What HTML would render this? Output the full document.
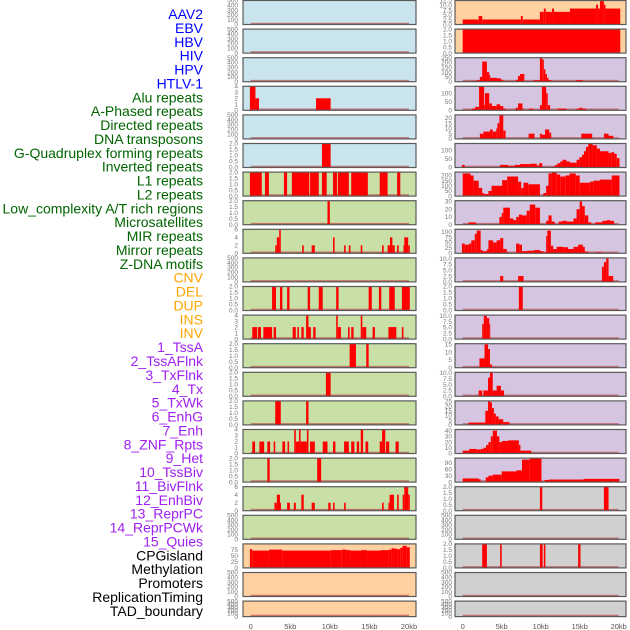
<!DOCTYPE html>
<html><head><meta charset="utf-8"><style>
html,body{margin:0;padding:0;background:#fff;}
svg{display:block;font-family:"Liberation Sans",sans-serif;}
</style></head><body>
<svg id="chart" width="630" height="630" viewBox="0 0 630 630">
<g id="labels"></g>
<g id="panels"></g>
<g id="xaxis"></g>
</svg>
<script>
const NS="http://www.w3.org/2000/svg";
// ---- data ----
const featureLabels=["AAV2","EBV","HBV","HIV","HPV","HTLV-1","Alu repeats","A-Phased repeats","Directed repeats","DNA transposons","G-Quadruplex forming repeats","Inverted repeats","L1 repeats","L2 repeats","Low_complexity A/T rich regions","Microsatellites","MIR repeats","Mirror repeats","Z-DNA motifs","CNV","DEL","DUP","INS","INV","1_TssA","2_TssAFlnk","3_TxFlnk","4_Tx","5_TxWk","6_EnhG","7_Enh","8_ZNF_Rpts","9_Het","10_TssBiv","11_BivFlnk","12_EnhBiv","13_ReprPC","14_ReprPCWk","15_Quies","CPGisland","Methylation","Promoters","ReplicationTiming","TAD_boundary"];
const labelGroups=[6,13,5,15,5];
const groupColors=["#0000ff","#006400","#ffa500","#a020f0","#000000"];
const xTickValues=[0,5,10,15,20];
const xTickLabels=["0","5kb","10kb","15kb","20kb"];

const ticks500=[0,100,200,300,400,500];
const ticks2=[0,0.5,1,1.5,2];
const ticks4=[0,1,2,3,4];
const ticks6=[0,2,4,6];

const L3=[[-0.1,0.6,4],[0.6,1.05,2],[8.25,10.1,2]];
const L5=[[9.0,10.1,2]];
const L6=[[-0.1,1.4,2],[1.8,2.3,2],[4.2,4.6,2],[5.2,7.4,2],[7.5,8.6,2],[9.0,9.6,2],[10.4,10.9,2],[11.0,12.4,2],[12.7,14.8,2],[16.3,17.3,2],[18.5,18.9,2]];
const L7=[[9.7,10.0,2]];
const L8=[[3.1,3.3,2],[3.3,3.6,4],[3.6,3.8,6],[6.5,6.7,2],[7.7,8.1,2],[10.4,10.6,4],[11.8,12.0,2],[12.4,12.6,2],[13.9,14.1,2],[16.6,16.8,2],[17.3,17.6,2],[17.6,17.9,4],[17.9,18.2,2],[18.5,18.7,2],[19.3,19.4,2],[19.4,19.9,4],[19.9,20.1,2]];
const L10=[[2.7,3.2,2],[3.7,4.0,2],[4.6,4.9,2],[7.2,7.5,2],[8.6,9.1,2],[10.8,11.1,2],[14.9,15.3,2],[16.2,16.5,2],[17.5,18.2,2],[19.1,20.1,2]];
const L11=[[0.2,0.8,2],[0.9,1.3,2],[1.6,2.7,2],[2.9,3.2,2],[5.3,5.7,2],[5.9,6.1,2],[6.4,6.7,2],[7.0,7.3,4],[7.3,7.6,2],[7.9,8.2,2],[10.8,11.0,4],[11.0,11.4,2],[12.3,12.5,2],[12.7,13.0,2],[13.9,14.1,4],[14.1,14.6,2],[15.4,15.7,2],[17.4,18.4,2],[19.1,19.3,2]];
const L12=[[12.5,13.3,2],[14.6,14.9,2]];
const L13=[[9.5,10.1,2]];
const L14=[[3.1,3.8,2],[7.0,7.3,2]];
const L15=[[0.2,0.55,2],[1.1,1.7,2],[2.1,2.45,2],[2.9,3.1,2],[4.0,4.35,2],[4.65,4.85,2],[5.5,5.7,4],[5.7,6.1,2],[6.1,6.3,4],[6.3,7.1,2],[7.1,7.3,4],[7.5,8.1,2],[9.1,9.7,2],[10.4,10.7,2],[11.8,12.4,2],[12.7,13.1,2],[13.4,13.7,2],[13.9,14.2,4],[14.5,14.85,2],[16.3,16.6,2],[16.6,17.0,4],[17.1,17.5,2],[18.3,18.7,2]];
const L16=[[2.1,2.4,2],[8.4,8.9,2]];
const L17=[[3.0,3.3,2],[3.3,3.7,4],[3.7,3.8,2],[4.6,4.95,2],[5.45,5.7,2],[6.4,6.7,4],[7.7,8.1,2],[9.8,10.1,2],[10.4,10.6,2],[11.8,12.0,2],[16.6,16.8,2],[17.4,17.55,2],[17.55,18.1,4],[18.5,18.7,4],[19.2,19.4,4],[19.4,19.9,6],[19.9,20.1,4]];
const L19=[[-0.1,0.2,78],[0.2,2.3,72],[2.3,4.0,76],[4.0,10.1,72],[10.1,11.5,74],[11.5,12.1,76],[12.1,12.6,74],[12.6,14.0,72],[14.0,14.7,74],[14.7,16.4,72],[16.4,17.4,74],[17.4,17.8,76],[17.8,18.1,82],[18.1,18.5,80],[18.5,18.9,78],[18.9,19.2,84],[19.2,19.7,92],[19.7,20.1,86]];

const leftPanels=[
 ["#c9e4ec",ticks500,500,[]],["#c9e4ec",ticks500,500,[]],["#c9e4ec",ticks500,500,[]],
 ["#c9e4ec",ticks4,4,L3],["#c9e4ec",ticks500,500,[]],["#c9e4ec",ticks2,2,L5],
 ["#c8e0a6",ticks2,2,L6],["#c8e0a6",ticks2,2,L7],["#c8e0a6",ticks6,6,L8],
 ["#c8e0a6",ticks500,500,[]],["#c8e0a6",ticks2,2,L10],["#c8e0a6",ticks4,4,L11],
 ["#c8e0a6",ticks2,2,L12],["#c8e0a6",ticks2,2,L13],["#c8e0a6",ticks2,2,L14],
 ["#c8e0a6",ticks4,4,L15],["#c8e0a6",ticks2,2,L16],["#c8e0a6",ticks6,6,L17],
 ["#c8e0a6",ticks500,500,[]],["#ffd0a0",[0,25,50,75],100,L19],
 ["#ffd0a0",ticks500,500,[]],["#ffd0a0",ticks500,500,[]]
];

const R0=[[0,2.05,2.6],[2.05,2.5,4.4],[2.5,7.45,2.6],[7.45,7.7,4.4],[7.7,9.9,2.6],[9.9,10.4,6.6],[10.4,10.65,8.3],[10.65,11.45,6.6],[11.45,11.7,8.3],[11.7,13.75,6.6],[13.75,17.1,8.3],[17.1,17.35,10.3],[17.35,17.6,8.3],[17.6,18.1,12.4],[18.1,18.3,10.3],[18.3,20.2,8.3]];
const R1=[[0,20.2,2]];
const R2=[[1.15,1.8,8],[1.8,2.2,15],[2.2,2.5,50],[2.5,3.1,210],[3.1,3.4,100],[3.4,3.5,70],[3.5,4.4,40],[4.4,4.9,35],[4.9,5.2,20],[6.8,7.1,20],[7.1,7.35,60],[7.35,7.9,80],[9.1,9.9,15],[9.9,10.2,250],[10.2,10.4,230],[10.4,10.6,130],[10.6,10.8,80],[10.8,11.0,40],[11.0,11.4,15],[14.5,15.4,15]];
const R3=[[1.15,1.6,10],[1.6,2.1,20],[2.1,2.75,140],[2.75,2.85,30],[2.85,3.4,100],[3.4,3.75,40],[3.75,4.35,25],[4.35,4.8,35],[4.8,5.2,25],[5.2,5.5,10],[6.8,7.1,15],[7.1,7.65,40],[7.65,7.8,10],[8.55,9.05,10],[9.9,10.15,30],[10.15,10.7,140],[10.7,10.9,100],[10.9,11.2,30],[12.1,13.3,10],[14.6,15.0,10],[15.0,15.3,15],[15.3,15.8,10]];
const R4=[[2.2,2.65,5],[2.65,3.5,7],[3.5,3.85,9],[3.85,4.3,7],[4.3,4.45,10],[4.45,4.7,15],[4.7,5.2,23],[5.2,5.5,8],[8.45,9.2,5],[9.9,10.15,5],[10.15,10.55,4],[10.55,11.1,9],[11.1,11.35,6],[15.2,16.6,5],[18.1,18.7,5],[18.7,19.3,3]];
const R5=[[-0.1,0.25,15],[4.8,5.85,15],[5.85,6.7,10],[6.7,7.35,15],[7.35,8.6,20],[8.6,9.5,22],[9.5,9.8,12],[9.8,10.2,25],[11.5,11.85,5],[11.85,12.15,15],[12.15,12.5,25],[12.5,12.8,35],[12.8,13.3,45],[13.3,13.75,35],[13.75,14.6,28],[14.6,14.95,45],[14.95,15.3,60],[15.3,15.55,75],[15.55,15.8,95],[15.8,16.1,120],[16.1,16.65,140],[16.65,17.2,130],[17.2,17.6,110],[17.6,18.7,95],[18.7,19.1,85],[19.1,19.4,90],[19.4,19.75,80],[19.75,20.1,55]];
const R6=[[0,1.0,220],[1.0,1.4,200],[1.4,2.05,150],[2.05,2.5,80],[2.5,2.75,30],[2.75,3.3,20],[3.3,3.7,50],[3.7,5.05,100],[5.05,5.7,155],[5.7,7.1,190],[7.1,7.5,140],[7.5,7.8,80],[7.8,8.4,130],[8.4,9.9,115],[10.35,10.7,30],[10.7,11.0,100],[11.0,11.4,220],[11.4,12.05,230],[12.05,12.5,210],[12.5,13.15,190],[13.15,13.7,200],[13.7,14.5,220],[14.5,15.0,200],[15.0,16.3,130],[16.3,16.75,140],[16.75,17.6,150],[17.6,19.1,160],[19.1,20.1,200]];
const R7=[[0.75,1.7,3],[4.7,5.0,10],[5.0,5.2,15],[5.2,6.05,22],[6.05,6.5,8],[6.5,6.85,6],[6.85,7.2,10],[7.2,7.6,13],[7.6,8.2,12],[8.2,8.6,18],[8.6,9.3,26],[9.3,9.9,22],[10.7,11.0,5],[11.0,11.4,12],[11.4,11.8,4],[12.3,12.75,4],[12.75,13.35,5],[13.35,14.2,4],[14.2,14.6,8],[14.6,15.0,20],[15.0,15.3,30],[15.3,15.65,24],[15.65,16.1,12],[16.1,16.5,3],[17.0,17.9,3],[17.9,18.5,5],[18.5,18.9,6],[18.9,19.4,5]];
const R8=[[-0.1,0.25,45],[0.25,0.8,40],[0.8,1.1,45],[1.1,1.55,60],[1.55,1.8,90],[1.8,2.3,105],[2.3,2.55,15],[2.55,3.1,10],[3.1,3.3,18],[3.3,3.9,60],[3.9,4.35,50],[4.35,4.8,60],[4.8,5.2,70],[5.2,5.65,20],[5.65,5.9,5],[6.85,7.25,45],[7.25,7.6,40],[7.6,8.3,10],[8.3,9.1,12],[9.1,9.9,15],[9.9,10.35,10],[10.35,10.7,5],[10.7,10.85,80],[10.85,11.3,105],[11.3,11.6,35],[11.6,12.05,20],[12.05,12.9,30],[12.9,13.5,28],[13.5,14.2,20],[14.2,14.8,30],[14.8,15.4,40],[15.4,15.65,30],[15.65,16.15,8],[17.1,17.8,5]];
const R9=[[4.8,5.2,2.5],[7.1,7.8,2.5],[17.85,18.1,6.5],[18.1,18.4,8.5],[18.4,18.7,10],[18.7,19.3,2.5]];
const R10=[[7.2,7.7,2]];
const R11=[[2.5,2.7,6.5],[2.7,3.1,10],[3.1,3.4,9],[3.4,3.5,6.5]];
const R12=[[2.15,2.8,6],[2.8,3.25,15],[3.25,3.5,12],[3.5,3.75,2]];
const R13=[[2.05,2.5,2.5],[2.65,3.25,2.5],[3.25,3.5,8],[3.5,3.85,10.5],[3.85,4.35,2.5],[4.35,4.9,4.5],[4.9,5.3,2.5]];
const R14=[[0.75,2.9,2.5],[2.9,3.25,15],[3.25,3.5,25],[3.5,3.75,24],[3.75,4.0,18],[4.0,4.25,12],[4.25,4.6,9],[4.6,5.2,6],[5.2,6.0,3]];
const R15=[[0,0.85,5],[0.85,1.8,8],[1.8,2.3,7],[2.3,2.65,8],[2.65,3.0,10],[3.0,3.3,15],[3.3,3.6,20],[3.6,3.85,30],[3.85,4.4,40],[4.4,4.7,30],[4.7,5.05,20],[5.05,5.8,22],[5.8,7.2,23],[7.2,7.4,15],[7.4,8.8,5]];
const R16=[[0,2.05,17],[2.05,2.3,13],[2.3,2.5,3],[2.95,3.3,22],[3.3,3.85,30],[3.85,5.0,35],[5.0,6.9,50],[6.9,7.6,55],[7.6,8.6,105],[8.6,10.1,110],[10.5,11.05,10],[11.05,15.5,12],[15.5,20.1,15]];
const R17=[[9.9,10.2,2],[18.1,18.7,2]];
const R19=[[2.5,3.1,2],[4.8,5.0,2],[9.9,10.25,2],[10.4,10.6,2],[14.8,15.1,2]];

const rightPanels=[
 ["#ffd0a0",[0,2.5,5,7.5,10,12.5],12.5,R0],["#ffd0a0",ticks2,2,R1],
 ["#d5c5e1",[0,50,100,150,200,250],250,R2],["#d5c5e1",[0,50,100],140,R3],
 ["#d5c5e1",[0,5,10,15,20],23,R4],["#d5c5e1",[0,50,100],140,R5],
 ["#d5c5e1",[0,50,100,150,200],233,R6],["#d5c5e1",[0,10,20,30],31,R7],
 ["#d5c5e1",[0,25,50,75,100],111,R8],["#d5c5e1",[0,2.5,5,7.5,10],10.3,R9],
 ["#d5c5e1",ticks2,2,R10],["#d5c5e1",[0,2.5,5,7.5,10],10.3,R11],
 ["#d5c5e1",[0,5,10,15],15.5,R12],["#d5c5e1",[0,2.5,5,7.5,10],10.3,R13],
 ["#d5c5e1",[0,5,10,15,20,25],25.5,R14],["#d5c5e1",[0,10,20,30,40],42,R15],
 ["#d5c5e1",[0,30,60,90],112,R16],["#d0d0d0",ticks2,2,R17],
 ["#d0d0d0",ticks500,500,[]],["#d0d0d0",ticks2,2,R19],
 ["#d0d0d0",ticks500,500,[]],["#d0d0d0",ticks500,500,[]]
];

const cols=[
 {left:243,width:173,x0:250.7,pxPerKb:7.915,tickRight:238,name:"left"},
 {left:455,width:171,x0:462.7,pxPerKb:7.8,tickRight:452,name:"right"}
];
function rowTop(i){return 0.5+28.6*i;}
function rowH(i){return i===21?15.5:24;}
function mk(tag,attrs,parent){const e=document.createElementNS(NS,tag);for(const k in attrs)e.setAttribute(k,attrs[k]);parent.appendChild(e);return e;}
function fmt(v,list){const dec=list.some(t=>t%1!==0);return dec?v.toFixed(1):String(v);}

const lg=document.getElementById("labels");
let gi=0,cnt=0;
featureLabels.forEach((t,i)=>{
  while(cnt>=labelGroups[gi]){cnt-=labelGroups[gi];gi++;}
  const tx=mk("text",{x:203,y:14+13.88*i+5,"text-anchor":"end","font-size":"14",fill:groupColors[gi]},lg);
  tx.textContent=t;
  
  
  cnt++;
});

const pg=document.getElementById("panels");
[leftPanels,rightPanels].forEach((panels,ci)=>{
  const c=cols[ci];
  const xs=kb=>c.x0+kb*c.pxPerKb;
  panels.forEach((p,ri)=>{
    const [fill,ticks,yMax,segs]=p;
    const top=rowTop(ri),h=rowH(ri),bot=top+h;
    const ys=v=>bot-(v/yMax)*h;
    const g=mk("g",{},pg);
    
    
    const bg=mk("rect",{x:c.left,y:top,width:c.width,height:h,fill:fill},g);
    
    
    ticks.forEach(t=>{
      const tt=mk("text",{x:c.tickRight,y:ys(t)+2.2,"text-anchor":"end","font-size":"6.5",fill:"#777"},g);
      tt.textContent=fmt(t,ticks);
      
      
    });
    const bl=mk("line",{x1:xs(0),x2:xs(20),y1:bot-1,y2:bot-1,stroke:"#b84848","stroke-width":"1.6","stroke-opacity":"0.7"},g);
    
    
    segs.forEach(s=>{
      const x1=xs(s[0]),x2=xs(s[1]),y=Math.max(ys(s[2]),top);
      const r=mk("rect",{x:x1,y:y,width:Math.max(x2-x1,1),height:bot-y,fill:"#ff0000"},g);
      
      
    });
    const br=mk("rect",{x:c.left,y:top,width:c.width,height:h,fill:"none",stroke:"#5a5a5a","stroke-width":"1.2"},g);
    
    
  });
});

const xg=document.getElementById("xaxis");
cols.forEach(c=>{
  xTickValues.forEach((v,i)=>{
    const t=mk("text",{x:c.x0+v*c.pxPerKb,y:629,"text-anchor":"middle","font-size":"7.5",fill:"#555"},xg);
    t.textContent=xTickLabels[i];
    
    
  });
});
</script>
</body></html>
